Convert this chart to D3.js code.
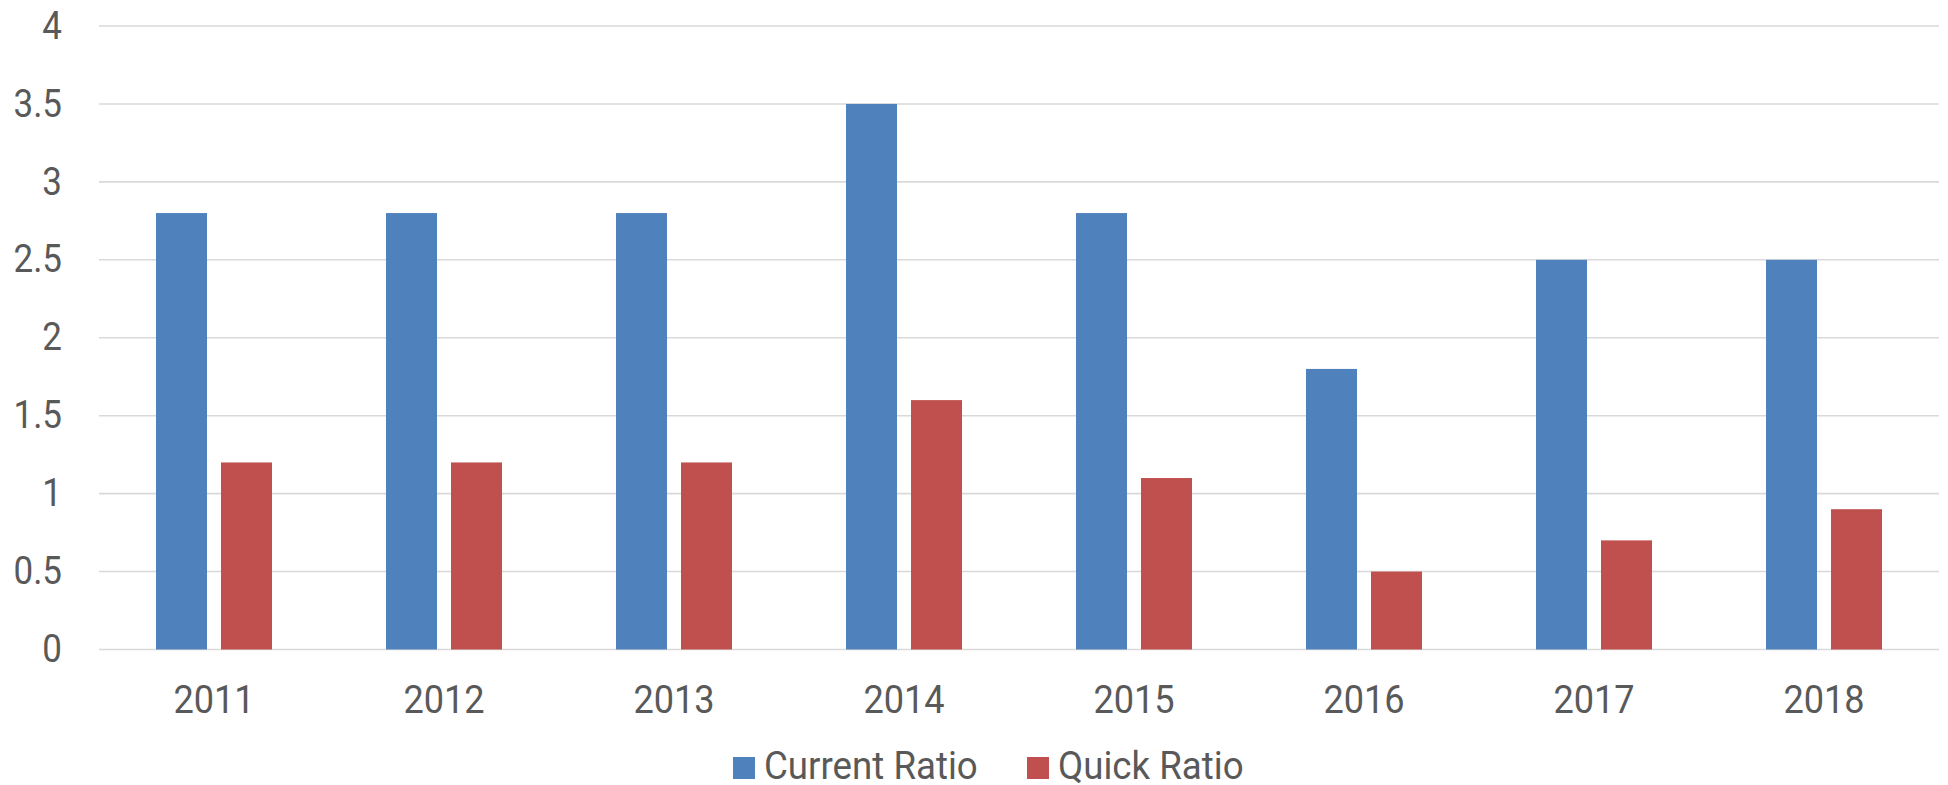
<!DOCTYPE html>
<html>
<head>
<meta charset="utf-8">
<script src="https://cdn.jsdelivr.net/npm/d3@7"></script>
<style>
  html, body { margin: 0; padding: 0; background: #ffffff; }
  svg { display: block; }
  text { font-family: Roboto, "Noto Sans", sans-serif; fill: #595959; }
</style>
</head>
<body>
<svg id="chart" width="1948" height="785"></svg>
<script>
const years = ["2011", "2012", "2013", "2014", "2015", "2016", "2017", "2018"];
const currentRatio = [2.8, 2.8, 2.8, 3.5, 2.8, 1.8, 2.5, 2.5];
const quickRatio = [1.2, 1.2, 1.2, 1.6, 1.1, 0.5, 0.7, 0.9];
const seriesNames = ["Current Ratio", "Quick Ratio"];
const seriesColors = ["#4f81bd", "#c0504d"];
const yTicks = [0, 0.5, 1, 1.5, 2, 2.5, 3, 3.5, 4];

const svg = d3.select("#chart");
const plotLeft = 99, plotRight = 1939, plotTop = 26, plotBottom = 649.5;
const fontStack = 'Roboto, "Noto Sans", sans-serif';

const x0 = d3.scaleBand().domain(years).range([plotLeft, plotRight]).padding(0);
const bw = x0.bandwidth();
const x1 = d3.scaleBand().domain(seriesNames).range([bw * 0.2478, bw * 0.7522]).paddingInner(14 / 65).paddingOuter(0);
const y = d3.scaleLinear().domain([0, 4]).range([plotBottom, plotTop]);
const color = d3.scaleOrdinal().domain(seriesNames).range(seriesColors);

function squeeze(sel, k) {
  sel.each(function () {
    const len = this.getComputedTextLength();
    d3.select(this).attr("textLength", len * k).attr("lengthAdjust", "spacingAndGlyphs");
  });
}

// gridlines
svg.append("g")
  .selectAll("line")
  .data(yTicks)
  .join("line")
  .attr("x1", plotLeft).attr("x2", plotRight)
  .attr("y1", d => y(d)).attr("y2", d => y(d))
  .attr("stroke", "#d9d9d9").attr("stroke-width", 1.6);

// y labels
const yAxis = d3.axisLeft(y).tickValues(yTicks).tickFormat(d3.format("")).tickSize(0).tickPadding(0);
const gy = svg.append("g").attr("transform", `translate(62,0)`).call(yAxis);
gy.select(".domain").remove();
gy.selectAll("text").attr("font-size", 38).attr("fill", "#595959").style("font-family", fontStack)
  .call(squeeze, 0.92);

// x labels
const xAxis = d3.axisBottom(x0).tickSize(0).tickPadding(0);
const gx = svg.append("g").attr("transform", `translate(0,${plotBottom})`).call(xAxis);
gx.select(".domain").remove();
gx.selectAll("text").attr("font-size", 38).attr("fill", "#595959").attr("dy", null).attr("y", 63.5)
  .style("font-family", fontStack)
  .call(squeeze, 0.95);

// bars
const rows = years.map((yr, i) => ({ year: yr, values: [
  { key: seriesNames[0], value: currentRatio[i] },
  { key: seriesNames[1], value: quickRatio[i] }
]}));

svg.append("g")
  .selectAll("g")
  .data(rows)
  .join("g")
  .attr("transform", d => `translate(${x0(d.year)},0)`)
  .selectAll("rect")
  .data(d => d.values)
  .join("rect")
  .attr("x", d => x1(d.key))
  .attr("width", x1.bandwidth())
  .attr("y", d => y(d.value))
  .attr("height", d => y(0) - y(d.value))
  .attr("fill", d => color(d.key));

// legend
const legendItems = [
  { name: seriesNames[0], sx: 733, tx: 764 },
  { name: seriesNames[1], sx: 1027, tx: 1058 }
];
const lg = svg.append("g");
lg.selectAll("rect")
  .data(legendItems)
  .join("rect")
  .attr("x", d => d.sx).attr("y", 757)
  .attr("width", 22).attr("height", 22)
  .attr("fill", d => color(d.name));
lg.selectAll("text")
  .data(legendItems)
  .join("text")
  .attr("x", d => d.tx).attr("y", 779)
  .attr("font-size", 38)
  .style("font-family", fontStack)
  .text(d => d.name)
  .call(squeeze, 0.965);
</script>
</body>
</html>
